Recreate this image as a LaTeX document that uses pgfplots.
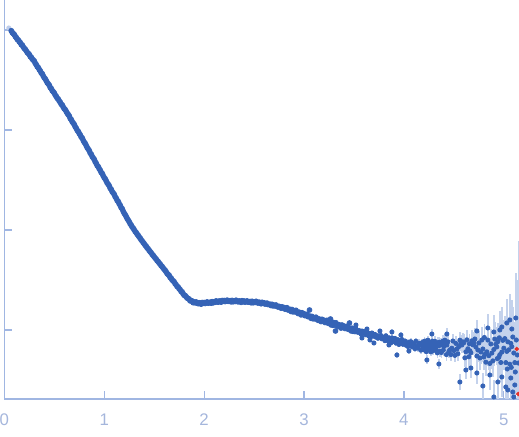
\documentclass[border=0pt]{standalone}
\usepackage{fontspec}
\setmainfont{Liberation Sans}
\usepackage{pgfplots}
\pgfplotsset{compat=1.18}
\definecolor{dotblue}{RGB}{53,99,182}
\definecolor{errblue}{RGB}{196,210,236}
\definecolor{axisblue}{RGB}{160,182,226}
\definecolor{labelblue}{RGB}{165,182,220}
\definecolor{firstpt}{RGB}{190,205,235}
\definecolor{outred}{RGB}{232,48,40}
\begin{document}
\begin{tikzpicture}
  \begin{axis}[
    scale only axis,
    width=257.35pt, height=199.5pt,
    xmin=0, xmax=5.152,
    ymin=-3.69, ymax=0.30,
    axis x line*=bottom,
    axis y line*=left,
    axis line style={axisblue, line width=0.6pt},
    tick align=inside,
    major tick length=4pt,
    tick style={axisblue, line width=0.6pt},
    xtick={0,1,2,3,4,5},
    ytick={0,-1,-2,-3},
    yticklabels={},
    /pgf/number format/assume math mode=true,
    xticklabel style={font=\fontsize{8.4}{10}\selectfont, text=labelblue, yshift=-4pt},
    every axis plot/.style={only marks, mark=*, mark size=1.05pt},
    tailbars/.style={error bars/.cd, y dir=both, y explicit,
      error mark=none, error bar style={errblue, line width=0.7pt}},
    ]
    \coordinate (bl) at (rel axis cs:0,0);
    \coordinate (tr) at (rel axis cs:1,1);

    % excluded first point
    \addplot [firstpt, mark options={fill=firstpt, draw=firstpt}]
    coordinates {(0.045, 0.02)};

    % steep part (log10 intensity)
    \addplot [dotblue, mark size=1.25pt, mark options={fill=dotblue, draw=dotblue}]
    table [x=q, y=L] {
q L
0.07 -0.008
0.08 -0.026
0.09 -0.036
0.10 -0.046
0.11 -0.065
0.12 -0.076
0.13 -0.094
0.14 -0.100
0.15 -0.117
0.16 -0.127
0.17 -0.146
0.18 -0.151
0.19 -0.170
0.20 -0.184
0.21 -0.193
0.22 -0.209
0.23 -0.225
0.24 -0.234
0.25 -0.245
0.26 -0.266
0.27 -0.273
0.28 -0.291
0.29 -0.301
0.30 -0.311
0.31 -0.333
0.32 -0.347
0.33 -0.367
0.34 -0.376
0.35 -0.396
0.36 -0.409
0.37 -0.430
0.38 -0.438
0.39 -0.460
0.40 -0.478
0.41 -0.489
0.42 -0.508
0.43 -0.527
0.44 -0.539
0.45 -0.552
0.46 -0.576
0.47 -0.586
0.48 -0.607
0.49 -0.618
0.50 -0.630
0.51 -0.651
0.52 -0.664
0.53 -0.683
0.54 -0.691
0.55 -0.710
0.56 -0.723
0.57 -0.743
0.58 -0.750
0.59 -0.771
0.60 -0.787
0.61 -0.797
0.62 -0.815
0.63 -0.833
0.64 -0.846
0.65 -0.860
0.66 -0.885
0.67 -0.896
0.68 -0.918
0.69 -0.931
0.70 -0.945
0.71 -0.968
0.72 -0.983
0.73 -1.004
0.74 -1.014
0.75 -1.035
0.76 -1.049
0.77 -1.071
0.78 -1.080
0.79 -1.104
0.80 -1.123
0.81 -1.135
0.82 -1.156
0.83 -1.177
0.84 -1.191
0.85 -1.206
0.86 -1.231
0.87 -1.243
0.88 -1.266
0.89 -1.280
0.90 -1.294
0.91 -1.318
0.92 -1.334
0.93 -1.356
0.94 -1.366
0.95 -1.388
0.96 -1.403
0.97 -1.425
0.98 -1.435
0.99 -1.458
1.00 -1.477
1.01 -1.489
1.02 -1.509
1.03 -1.530
1.04 -1.543
1.05 -1.558
1.06 -1.583
1.07 -1.594
1.08 -1.617
1.09 -1.630
1.10 -1.644
1.11 -1.668
1.12 -1.683
1.13 -1.705
1.14 -1.715
1.15 -1.738
1.16 -1.754
1.17 -1.777
1.18 -1.788
1.19 -1.813
1.20 -1.833
1.21 -1.847
1.22 -1.866
1.23 -1.886
1.24 -1.901
1.25 -1.917
1.26 -1.938
1.27 -1.951
1.28 -1.970
1.29 -1.982
1.30 -1.998
1.31 -2.015
1.32 -2.026
1.33 -2.043
1.34 -2.054
1.35 -2.070
1.36 -2.082
1.37 -2.099
1.38 -2.110
1.39 -2.125
1.40 -2.137
1.41 -2.153
1.42 -2.163
1.43 -2.179
1.44 -2.189
1.45 -2.204
1.46 -2.217
1.47 -2.228
1.48 -2.244
1.49 -2.254
1.50 -2.268
1.51 -2.281
1.52 -2.291
1.53 -2.307
1.54 -2.316
1.55 -2.331
1.56 -2.341
1.57 -2.357
1.58 -2.366
1.59 -2.381
1.60 -2.393
1.61 -2.404
1.62 -2.419
1.63 -2.436
1.64 -2.445
1.65 -2.454
1.66 -2.475
1.67 -2.482
1.68 -2.500
1.69 -2.509
1.70 -2.518
1.71 -2.537
1.72 -2.548
1.73 -2.565
1.74 -2.570
1.75 -2.587
1.76 -2.597
1.77 -2.615
1.78 -2.619
1.79 -2.638
1.80 -2.652
1.81 -2.656
1.82 -2.668
1.83 -2.680
1.84 -2.685
1.85 -2.691
1.86 -2.708
1.87 -2.708
    };

    % plateau and slow decay
    \addplot [dotblue, mark size=1.2pt, mark options={fill=dotblue, draw=dotblue}]
    table [x=q, y=L] {
q L
1.88 -2.709
1.89 -2.727
1.90 -2.720
1.91 -2.729
1.92 -2.719
1.93 -2.731
1.94 -2.737
1.95 -2.727
1.96 -2.732
1.97 -2.742
1.98 -2.725
1.99 -2.734
2.00 -2.725
2.01 -2.735
2.02 -2.727
2.03 -2.719
2.04 -2.732
2.05 -2.727
2.06 -2.722
2.07 -2.732
2.08 -2.716
2.09 -2.729
2.10 -2.718
2.11 -2.723
2.12 -2.709
2.13 -2.718
2.14 -2.722
2.15 -2.710
2.16 -2.713
2.17 -2.722
2.18 -2.705
2.19 -2.714
2.20 -2.705
2.21 -2.716
2.22 -2.709
2.23 -2.701
2.24 -2.714
2.25 -2.710
2.26 -2.706
2.27 -2.719
2.28 -2.704
2.29 -2.718
2.30 -2.708
2.31 -2.715
2.32 -2.702
2.33 -2.714
2.34 -2.719
2.35 -2.709
2.36 -2.713
2.37 -2.724
2.38 -2.707
2.39 -2.718
2.40 -2.710
2.41 -2.722
2.42 -2.715
2.43 -2.709
2.44 -2.722
2.45 -2.719
2.46 -2.715
2.47 -2.728
2.48 -2.713
2.49 -2.728
2.50 -2.718
2.51 -2.725
2.52 -2.713
2.53 -2.725
2.54 -2.731
2.55 -2.721
2.56 -2.727
2.57 -2.738
2.58 -2.723
2.59 -2.734
2.60 -2.728
2.61 -2.741
2.62 -2.736
2.63 -2.731
2.64 -2.746
2.65 -2.744
2.66 -2.742
2.67 -2.756
2.68 -2.743
2.69 -2.759
2.70 -2.751
2.71 -2.760
2.72 -2.750
2.73 -2.763
2.74 -2.771
2.75 -2.763
2.76 -2.769
2.77 -2.782
2.78 -2.768
2.79 -2.780
2.80 -2.775
2.81 -2.792
2.82 -2.784
2.83 -2.777
2.84 -2.800
2.85 -2.797
2.86 -2.793
2.87 -2.815
2.88 -2.795
2.89 -2.819
2.90 -2.807
2.91 -2.819
2.92 -2.803
2.93 -2.823
2.94 -2.835
2.95 -2.821
2.96 -2.831
2.97 -2.849
2.98 -2.827
2.99 -2.846
3.00 -2.837
3.01 -2.857
3.02 -2.850
3.03 -2.843
3.04 -2.867
3.05 -2.864
3.06 -2.861
3.07 -2.883
3.08 -2.864
3.09 -2.888
3.10 -2.877
3.11 -2.889
3.12 -2.872
3.13 -2.892
3.14 -2.903
3.15 -2.889
3.16 -2.898
3.17 -2.916
3.18 -2.893
3.19 -2.912
3.20 -2.902
3.21 -2.925
3.22 -2.914
3.23 -2.903
3.24 -2.932
3.25 -2.927
3.26 -2.922
3.27 -2.949
3.28 -2.922
3.29 -2.953
3.30 -2.936
3.31 -2.951
3.32 -2.928
3.33 -2.953
3.34 -2.966
3.35 -2.947
3.36 -2.958
3.37 -2.981
3.38 -2.950
3.39 -2.973
3.40 -2.960
3.41 -2.985
3.42 -2.974
3.43 -2.963
3.44 -2.992
3.45 -2.987
3.46 -2.982
3.47 -3.009
3.48 -2.982
3.49 -3.013
3.055 -2.800
3.265 -2.890
3.315 -3.010
3.455 -2.930
3.295 -2.925
3.435 -2.965
    };

    % noisy tail with error bars
    \addplot [dotblue, mark options={fill=dotblue, draw=dotblue}, tailbars]
    table [x=q, y=L, y error=e] {
q L e
3.50 -2.994 0.015
3.51 -3.019 0.015
3.52 -2.988 0.015
3.53 -3.013 0.016
3.54 -3.024 0.016
3.55 -3.005 0.016
3.56 -3.016 0.016
3.57 -3.041 0.017
3.58 -3.010 0.017
3.59 -3.035 0.017
3.60 -3.026 0.017
3.61 -3.016 0.018
3.62 -3.049 0.018
3.63 -3.040 0.018
3.64 -3.028 0.018
3.65 -3.061 0.019
3.66 -3.037 0.019
3.67 -3.054 0.019
3.68 -3.030 0.019
3.69 -3.063 0.020
3.70 -3.055 0.020
3.71 -3.044 0.020
3.72 -3.072 0.021
3.73 -3.057 0.021
3.74 -3.083 0.021
3.75 -3.058 0.021
3.76 -3.074 0.022
3.77 -3.055 0.022
3.78 -3.089 0.022
3.79 -3.076 0.023
3.80 -3.071 0.023
3.81 -3.107 0.023
3.82 -3.058 0.024
3.83 -3.094 0.024
3.84 -3.108 0.024
3.85 -3.078 0.025
3.86 -3.092 0.025
3.87 -3.128 0.025
3.88 -3.079 0.026
3.89 -3.115 0.026
3.90 -3.099 0.026
3.91 -3.084 0.027
3.92 -3.131 0.027
3.93 -3.116 0.027
3.94 -3.097 0.028
3.95 -3.145 0.028
3.96 -3.108 0.028
3.97 -3.132 0.029
3.98 -3.095 0.029
3.99 -3.143 0.030
4.00 -3.130 0.030
4.01 -3.111 0.031
4.02 -3.152 0.031
4.03 -3.127 0.032
4.04 -3.165 0.032
4.05 -3.125 0.033
4.06 -3.148 0.033
4.07 -3.117 0.034
4.08 -3.167 0.034
4.09 -3.145 0.035
4.10 -3.137 0.035
4.11 -3.187 0.036
4.12 -3.112 0.036
4.13 -3.162 0.037
4.14 -3.181 0.037
4.15 -3.133 0.038
4.16 -3.151 0.038
4.17 -3.202 0.039
4.18 -3.127 0.039
4.19 -3.177 0.040
4.200 -3.148 0.040
4.205 -3.112 0.040
4.210 -3.203 0.041
4.215 -3.167 0.041
4.220 -3.125 0.042
4.225 -3.216 0.042
4.230 -3.138 0.043
4.235 -3.180 0.043
4.240 -3.102 0.044
4.245 -3.193 0.044
4.250 -3.163 0.044
4.255 -3.121 0.045
4.260 -3.200 0.045
4.265 -3.146 0.045
4.270 -3.218 0.046
4.275 -3.135 0.046
4.280 -3.177 0.046
4.285 -3.111 0.047
4.290 -3.208 0.047
4.295 -3.160 0.047
4.300 -3.148 0.048
4.310 -3.113 0.049
4.315 -3.179 0.049
4.320 -3.204 0.050
4.330 -3.162 0.051
4.335 -3.229 0.051
4.340 -3.127 0.052
4.350 -3.158 0.053
4.355 -3.122 0.053
4.360 -3.212 0.054
4.370 -3.135 0.055
4.375 -3.225 0.055
4.380 -3.148 0.056
4.390 -3.112 0.057
4.395 -3.202 0.058
4.40 -3.166 0.058
4.41 -3.102 0.059
4.42 -3.134 0.060
4.425 -3.246 0.061
4.43 -3.150 0.061
4.44 -3.118 0.062
4.45 -3.214 0.063
4.46 -3.198 0.064
4.47 -3.246 0.065
4.48 -3.182 0.066
4.49 -3.110 0.067
4.50 -3.206 0.068
4.51 -3.254 0.070
4.52 -3.134 0.071
4.53 -3.190 0.073
4.54 -3.238 0.075
4.55 -3.166 0.077
4.56 -3.102 0.079
4.57 -3.134 0.080
4.58 -3.150 0.083
4.59 -3.118 0.085
4.60 -3.128 0.088
4.61 -3.278 0.090
4.62 -3.218 0.092
4.63 -3.098 0.094
4.64 -3.188 0.096
4.65 -3.268 0.098
4.655 -3.138 0.099
4.66 -3.208 0.100
4.67 -3.228 0.102
4.68 -3.108 0.104
4.69 -3.148 0.106
4.70 -3.130 0.108
4.71 -3.090 0.110
4.72 -3.170 0.113
4.73 -3.260 0.115
4.74 -3.200 0.117
4.75 -3.130 0.118
4.76 -3.280 0.121
4.77 -3.220 0.123
4.78 -3.100 0.126
4.79 -3.190 0.128
4.80 -3.270 0.132
4.805 -3.075 0.133
4.81 -3.244 0.135
4.82 -3.322 0.138
4.83 -3.218 0.141
4.84 -3.101 0.144
4.85 -3.257 0.147
4.86 -3.335 0.150
4.87 -3.140 0.154
4.88 -3.231 0.158
4.89 -3.309 0.162
4.90 -3.195 0.166
4.91 -3.091 0.170
4.92 -3.143 0.175
4.93 -3.169 0.178
4.935 -3.286 0.181
4.94 -3.117 0.183
4.95 -3.273 0.188
4.955 -3.078 0.190
4.96 -3.247 0.192
4.97 -3.325 0.197
4.98 -3.221 0.203
4.99 -3.104 0.208
5.00 -3.182 0.218
5.01 -3.086 0.225
5.02 -3.326 0.232
5.03 -3.214 0.240
5.035 -3.390 0.244
5.04 -3.118 0.248
5.05 -3.198 0.256
5.06 -3.342 0.265
5.07 -3.134 0.275
5.075 -3.374 0.280
5.08 -3.166 0.285
5.09 -3.070 0.296
5.10 -3.230 0.310
5.11 -3.326 0.325
3.520 -2.950 0.015
3.580 -3.080 0.017
3.630 -2.990 0.018
3.660 -3.100 0.019
3.700 -3.130 0.020
3.760 -3.010 0.022
3.850 -3.150 0.025
3.880 -3.020 0.026
3.930 -3.250 0.030
3.970 -3.050 0.029
4.050 -3.210 0.033
4.230 -3.300 0.045
4.280 -3.040 0.046
4.350 -3.340 0.050
4.430 -3.040 0.060
4.560 -3.520 0.080
4.620 -3.400 0.092
4.670 -3.380 0.102
4.730 -3.430 0.110
4.730 -3.010 0.110
4.790 -3.560 0.130
4.840 -2.980 0.144
4.860 -3.450 0.150
4.900 -3.670 0.170
4.900 -3.020 0.166
4.940 -3.520 0.183
4.960 -3.000 0.190
4.980 -3.470 0.203
4.980 -2.970 0.203
5.020 -3.570 0.230
5.030 -2.930 0.240
5.040 -3.600 0.248
5.060 -2.900 0.260
5.070 -3.480 0.275
5.080 -2.990 0.285
5.090 -3.620 0.296
5.100 -3.670 0.300
5.110 -3.550 0.325
    };

    % last points: the upper error grows steeply
    \addplot [dotblue, mark options={fill=dotblue, draw=dotblue}, tailbars]
    table [x=q, y=L, y error plus=ep, y error minus=em] {
q L ep em
5.115 -3.420 0.40 0.50
5.120 -2.880 0.45 0.55
5.125 -3.100 0.55 0.55
5.135 -3.250 0.75 0.50
5.145 -3.330 1.22 0.40
    };

    % points outside the fitted range
    \addplot [outred, mark options={fill=outred, draw=outred}, mark size=0.9pt]
    coordinates {(5.13,-3.19) (5.145,-3.64)};
  \end{axis}
  \pgfresetboundingbox
  \useasboundingbox (bl) ++(-2.15pt,-19pt) rectangle (tr);
\end{tikzpicture}
\end{document}
